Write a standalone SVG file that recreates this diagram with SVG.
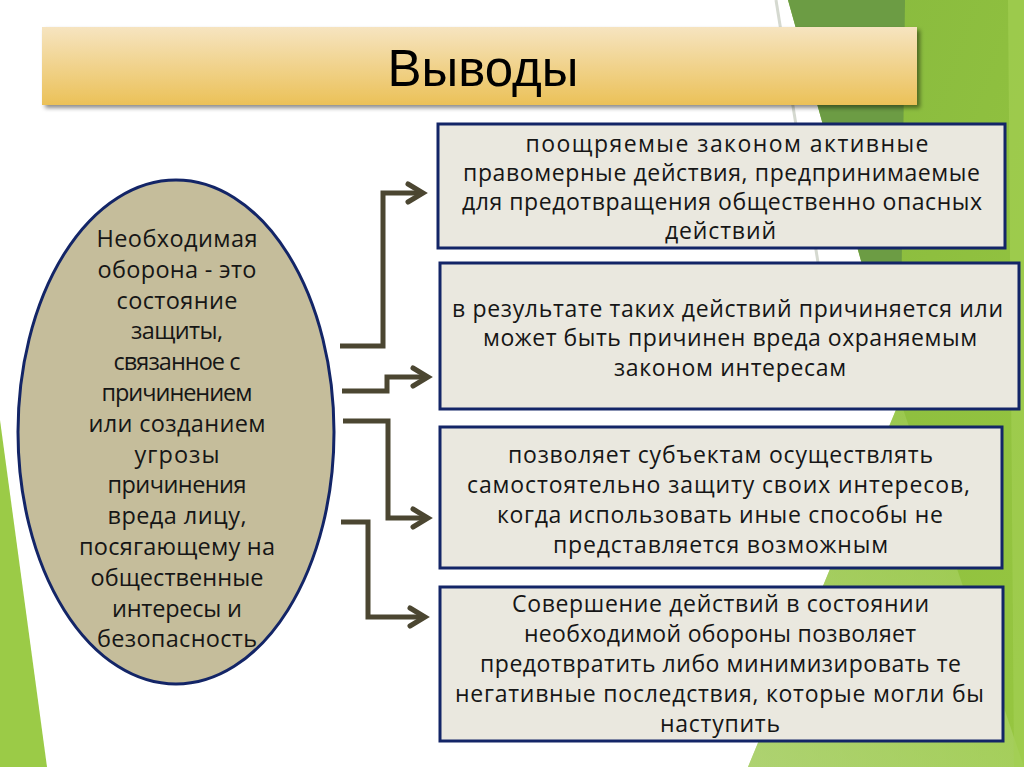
<svg xmlns="http://www.w3.org/2000/svg" width="1024" height="767" viewBox="0 0 1024 767">
  <defs>
    <linearGradient id="titleGrad" x1="0" y1="0" x2="0" y2="1">
      <stop offset="0" stop-color="#f6e4c0"/>
      <stop offset="1" stop-color="#ebc158"/>
    </linearGradient>
    <linearGradient id="brightGrad" x1="0" y1="0" x2="1" y2="1">
      <stop offset="0" stop-color="#86b83e"/>
      <stop offset="1" stop-color="#96c640"/>
    </linearGradient>
    <linearGradient id="lightGrad" x1="0" y1="1" x2="1" y2="0">
      <stop offset="0" stop-color="#c8e29a"/>
      <stop offset="1" stop-color="#9bca4a"/>
    </linearGradient>
    <filter id="shadow" x="-5%" y="-20%" width="110%" height="150%">
      <feDropShadow dx="3" dy="3" stdDeviation="2" flood-color="#000" flood-opacity="0.45"/>
    </filter>
    <marker id="arrow" markerUnits="userSpaceOnUse" markerWidth="30" markerHeight="30" viewBox="-20 -15 30 30" refX="0" refY="0" orient="auto">
      <path d="M-15,-9 L0,0 L-15,9" fill="none" stroke="#4b4631" stroke-width="5" stroke-linecap="round" stroke-linejoin="miter"/>
    </marker>
    <style>
      .box { fill: #eae8df; stroke: #132567; stroke-width: 3; }
      .txt { font-family: "Open Sans", "Lato", "DejaVu Sans", sans-serif; font-size: 23px; fill: #161616; text-anchor: middle; }
      .etxt { font-family: "Open Sans", "Lato", "DejaVu Sans", sans-serif; font-size: 23.5px; fill: #161616; text-anchor: middle; }
      .conn { fill: none; stroke: #4b4631; stroke-width: 5; stroke-linejoin: miter; marker-end: url(#arrow); }
    </style>
  </defs>

  <!-- background -->
  <rect x="0" y="0" width="1024" height="767" fill="#ffffff"/>
  <g id="background">
    <polygon points="0,420 0,767 47,767" fill="#9bcb47"/>
    <polygon points="788,0 1024,0 1024,767 748,767 900,400" fill="url(#brightGrad)"/>
    <polygon points="748,767 900,400 1024,767" fill="url(#lightGrad)" opacity="0.55"/>
    <polygon points="788,0 905,0 900,400" fill="#6c9c44"/>
    <polygon points="1008,0 1024,0 1024,767 1014,767" fill="#a2cf52" opacity="0.7"/>
    <path d="M776,0 L820,275" stroke="#d5d9d0" stroke-width="3" fill="none"/>
  </g>

  <!-- title -->
  <g id="title">
    <rect x="42" y="27" width="875" height="78" fill="url(#titleGrad)" filter="url(#shadow)"/>
    <text x="483" y="86" font-family="'Liberation Sans Narrow', 'Liberation Sans', Arial, sans-serif" font-size="52" fill="#000" text-anchor="middle" textLength="191" lengthAdjust="spacingAndGlyphs">Выводы</text>
  </g>

  <!-- connectors -->
  <g id="connectors">
    <path class="conn" d="M340,346 H383 V193 H423"/>
    <path class="conn" d="M342,391 H387 V377 H428"/>
    <path class="conn" d="M343,421 H388 V518 H428"/>
    <path class="conn" d="M341,522 H368 V617 H425"/>
  </g>

  <!-- ellipse node -->
  <g id="node-definition">
    <ellipse cx="176" cy="432" rx="158" ry="252" fill="#c5bd9b" stroke="#132567" stroke-width="3"/>
    <text class="etxt" x="177" y="247" textLength="161">Необходимая</text>
    <text class="etxt" x="177" y="277.8" textLength="159">оборона - это</text>
    <text class="etxt" x="177" y="308.6" textLength="121">состояние</text>
    <text class="etxt" x="177" y="339.4" textLength="92">защиты,</text>
    <text class="etxt" x="177" y="370.2" textLength="127">связанное с</text>
    <text class="etxt" x="177" y="401" textLength="151">причинением</text>
    <text class="etxt" x="177" y="431.8" textLength="177">или созданием</text>
    <text class="etxt" x="177" y="462.6" textLength="85">угрозы</text>
    <text class="etxt" x="177" y="493.4" textLength="139">причинения</text>
    <text class="etxt" x="177" y="524.2" textLength="139">вреда лицу,</text>
    <text class="etxt" x="177" y="555" textLength="196">посягающему на</text>
    <text class="etxt" x="177" y="585.8" textLength="173">общественные</text>
    <text class="etxt" x="177" y="616.6" textLength="130">интересы и</text>
    <text class="etxt" x="177" y="647.4" textLength="160">безопасность</text>
  </g>

  <!-- box 1 -->
  <g id="node-1">
    <rect class="box" x="438" y="124" width="567" height="124"/>
    <text class="txt" x="727" y="152" textLength="403">поощряемые законом активные</text>
    <text class="txt" x="721.5" y="181" textLength="517">правомерные действия, предпринимаемые</text>
    <text class="txt" x="722" y="210" textLength="520">для предотвращения общественно опасных</text>
    <text class="txt" x="720.5" y="239" textLength="111">действий</text>
  </g>

  <!-- box 2 -->
  <g id="node-2">
    <rect class="box" x="440" y="263" width="579" height="146"/>
    <text class="txt" x="727.5" y="317" textLength="551">в результате таких действий причиняется или</text>
    <text class="txt" x="730" y="346" textLength="494">может быть причинен вреда охраняемым</text>
    <text class="txt" x="730" y="376" textLength="232">законом интересам</text>
  </g>

  <!-- box 3 -->
  <g id="node-3">
    <rect class="box" x="440" y="427" width="562" height="141"/>
    <text class="txt" x="720.5" y="463" textLength="425">позволяет субъектам осуществлять</text>
    <text class="txt" x="718.5" y="493" textLength="503">самостоятельно защиту своих интересов,</text>
    <text class="txt" x="720" y="523" textLength="446">когда использовать иные способы не</text>
    <text class="txt" x="720.5" y="553" textLength="335">представляется возможным</text>
  </g>

  <!-- box 4 -->
  <g id="node-4">
    <rect class="box" x="440" y="587" width="563" height="154"/>
    <text class="txt" x="720.5" y="612" textLength="417">Совершение действий в состоянии</text>
    <text class="txt" x="720" y="642" textLength="392">необходимой обороны позволяет</text>
    <text class="txt" x="720.5" y="672" textLength="481">предотвратить либо минимизировать те</text>
    <text class="txt" x="719.5" y="702" textLength="529">негативные последствия, которые могли бы</text>
    <text class="txt" x="720" y="732" textLength="120">наступить</text>
  </g>
</svg>
